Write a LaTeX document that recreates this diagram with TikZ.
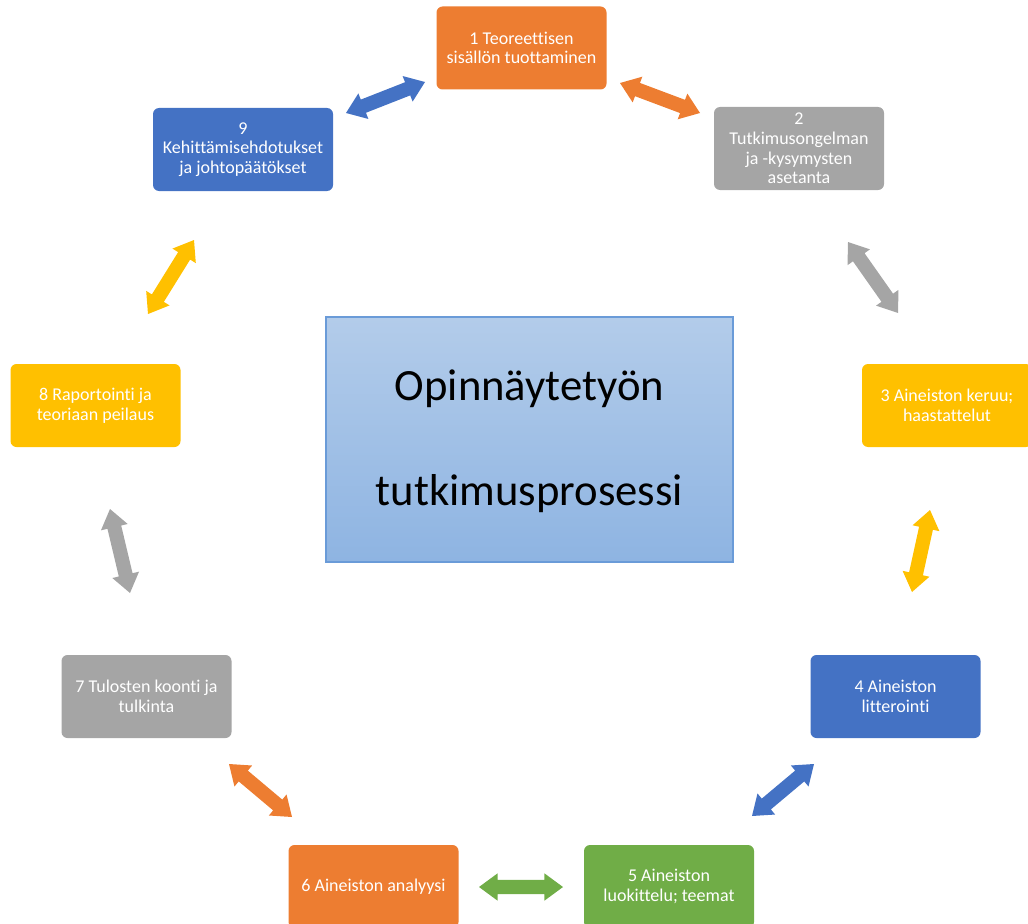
\documentclass[tikz,border=0pt]{standalone}
\usepackage{fontspec}
\setmainfont{Carlito}[Ligatures={NoCommon}]
\usetikzlibrary{calc}
\definecolor{cOrange}{HTML}{ED7D31}
\definecolor{cBlue}{HTML}{4472C4}
\definecolor{cGray}{HTML}{A5A5A5}
\definecolor{cYellow}{HTML}{FFC000}
\definecolor{cGreen}{HTML}{70AD47}
\definecolor{cTop}{HTML}{B3CCEA}
\definecolor{cBot}{HTML}{8EB4E2}
\definecolor{cEdge}{HTML}{6A9BD8}
\newcommand\ahl{14pt}
\newcommand\ahw{10.3pt}
\newcommand\asw{5.3pt}
\newcommand\dblarr[3]{%
  \fill[#1] (#2)
   -- ($(#2)!\ahl!(#3)!\ahw!90:(#3)$)
   -- ($(#2)!\ahl!(#3)!\asw!90:(#3)$)
   -- ($(#3)!\ahl!(#2)!\asw!-90:(#2)$)
   -- ($(#3)!\ahl!(#2)!\ahw!-90:(#2)$)
   -- (#3)
   -- ($(#3)!\ahl!(#2)!\ahw!90:(#2)$)
   -- ($(#3)!\ahl!(#2)!\asw!90:(#2)$)
   -- ($(#2)!\ahl!(#3)!\asw!-90:(#3)$)
   -- ($(#2)!\ahl!(#3)!\ahw!-90:(#3)$)
   -- cycle;}
\begin{document}
\begin{tikzpicture}[x=0.75pt,y=-0.75pt,
  stepbox/.style={rounded corners=4.5pt, minimum width=127.5pt, minimum height=62.25pt,
    inner sep=0pt, text=white, align=center, font=\fontsize{13.5}{14.8}\selectfont},
  title/.style={anchor=base, font=\fontsize{33.5}{38}\selectfont, text=black}]
\useasboundingbox (0,0) rectangle (1028,924);
% process boxes
\node[stepbox, fill=cOrange] (b1) at (521.5,48) {1 Teoreettisen\\sisällön tuottaminen};
\node[stepbox, fill=cGray]   (b2) at (799,148.5) {2\\Tutkimusongelman\\ja -kysymysten\\asetanta};
\node[stepbox, fill=cYellow] (b3) at (947,405.5) {3 Aineiston keruu;\\haastattelut};
\node[stepbox, fill=cBlue]   (b4) at (895.5,696.5) {4 Aineiston\\litterointi};
\node[stepbox, fill=cGreen]  (b5) at (669,886.5) {5 Aineiston\\luokittelu; teemat};
\node[stepbox, fill=cOrange] (b6) at (373.5,886.5) {6 Aineiston analyysi};
\node[stepbox, fill=cGray]   (b7) at (146.5,696.5) {7 Tulosten koonti ja\\tulkinta};
\node[stepbox, fill=cYellow] (b8) at (95.5,405.5) {8 Raportointi ja\\teoriaan peilaus};
\node[stepbox, fill=cBlue, minimum width=135pt] (b9) at (243,149.5) {9\\Kehittämisehdotukset\\ja johtopäätökset};
% center box
\node[draw=cEdge, line width=0.8pt, top color=cTop, bottom color=cBot,
  minimum width=305.25pt, minimum height=183.75pt, inner sep=0pt] (c) at (529.5,439.5) {};
\node[title] (t1) at (529.5,400) {Opinnäytetyön};
\node[title] (t2) at (529.5,505) {tutkimusprosessi};
% arrow ends
\coordinate (a91) at (346,113); \coordinate (a19) at (425,82);
\coordinate (a12) at (620,83);  \coordinate (a21) at (700,113);
\coordinate (a23) at (848,242); \coordinate (a32) at (898,313);
\coordinate (a34) at (930,510); \coordinate (a43) at (912,592);
\coordinate (a45) at (814,764); \coordinate (a54) at (752,816);
\coordinate (a56) at (563,887); \coordinate (a65) at (479,887);
\coordinate (a67) at (292,817); \coordinate (a76) at (229,764);
\coordinate (a78) at (130,593); \coordinate (a87) at (110,509);
\coordinate (a89) at (148,314); \coordinate (a98) at (194,240);
\dblarr{cBlue}{a91}{a19}
\dblarr{cOrange}{a12}{a21}
\dblarr{cGray}{a23}{a32}
\dblarr{cYellow}{a34}{a43}
\dblarr{cBlue}{a45}{a54}
\dblarr{cGreen}{a56}{a65}
\dblarr{cOrange}{a67}{a76}
\dblarr{cGray}{a78}{a87}
\dblarr{cYellow}{a89}{a98}
\end{tikzpicture}
\end{document}
